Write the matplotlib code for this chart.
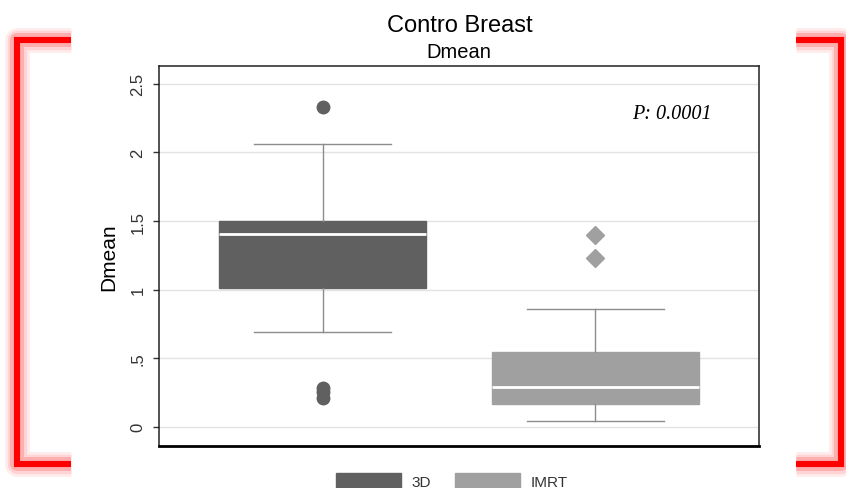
import matplotlib
matplotlib.use("Agg")
import matplotlib.pyplot as plt
from matplotlib.lines import Line2D
from matplotlib.patches import Patch

# summary values
groups = ["3D", "IMRT"]
q1 = [1.015, 0.163]
med = [1.405, 0.289]
q3 = [1.50, 0.547]
whis_lo = [0.69, 0.04]
whis_hi = [2.058, 0.86]
fliers_3d = [2.33, 0.28, 0.25, 0.21]
fliers_imrt = [1.40, 1.23]
p_text = "P: 0.0001"

yticks = [0, 0.5, 1, 1.5, 2, 2.5]
ytick_labels = ["0", ".5", "1", "1.5", "2", "2.5"]

colors = ["#606060", "#a0a0a0"]

W, H = 846, 489
fig = plt.figure(figsize=(W / 100, H / 100), dpi=100)
ax = fig.add_axes([159 / W, 1 - 447 / H, 600 / W, 380 / H])

stats = []
for i, g in enumerate(groups):
    stats.append(
        dict(
            label=g,
            q1=q1[i],
            med=med[i],
            q3=q3[i],
            whislo=whis_lo[i],
            whishi=whis_hi[i],
            fliers=[],
        )
    )

positions = [1, 2]
bp = ax.bxp(
    stats,
    positions=positions,
    widths=0.757,
    capwidths=0.5,
    patch_artist=True,
    showfliers=False,
    whiskerprops=dict(color="#8c8c8c", linewidth=1),
    capprops=dict(color="#8c8c8c", linewidth=1),
    medianprops=dict(color="white", linewidth=2),
    zorder=3,
)
for box, c in zip(bp["boxes"], colors):
    box.set_facecolor(c)
    box.set_edgecolor(c)

# outliers
ax.plot([positions[0]] * len(fliers_3d), fliers_3d, "o", color=colors[0], markersize=9, zorder=4)
ax.plot([positions[1]] * len(fliers_imrt), fliers_imrt, "D", color=colors[1], markersize=9, zorder=4)

ax.text(2.135, 2.25, p_text, fontsize=14.5, family="Liberation Serif", style="italic", ha="left", va="baseline")

ax.set_xlim(0.4, 2.6)
ax.set_ylim(-0.14, 2.63)
ax.set_yticks(yticks)
ax.set_yticklabels(ytick_labels)
ax.set_xticks([])
ax.grid(axis="y", color="#e2e2e2", linewidth=1, zorder=0)
ax.set_axisbelow(True)
ax.tick_params(axis="y", labelrotation=90, length=4.3, width=1, color="#333333", labelcolor="#333333", labelsize=12, pad=5.5)
for lab in ax.get_yticklabels():
    lab.set_family("Liberation Sans")
    lab.set_va("center")

for side in ["top", "right", "left"]:
    ax.spines[side].set_linewidth(1.1)
    ax.spines[side].set_color("#222222")
ax.spines["bottom"].set_linewidth(2)
ax.spines["bottom"].set_color("black")

ax.set_ylabel("Dmean", fontsize=15, family="Liberation Sans", labelpad=9)

fig.text(460 / W, 1 - 31.7 / H, "Contro Breast", fontsize=17, family="Liberation Sans", ha="center", va="baseline")
fig.text(459 / W, 1 - 58 / H, "Dmean", fontsize=14.5, family="Liberation Sans", ha="center", va="baseline")

handles = [Patch(facecolor=c, edgecolor=c) for c in colors]
fig.legend(
    handles,
    groups,
    loc="center",
    bbox_to_anchor=(452 / W, 1 - 482 / H),
    ncol=2,
    frameon=False,
    handlelength=4.25,
    handleheight=1.3,
    handletextpad=0.7,
    columnspacing=1.6,
    labelcolor="#333333",
    prop=dict(family="Liberation Sans", size=11),
)


# red bracket decoration on both sides
def bracket(xs, ys):
    fx = [x / W for x in xs]
    fy = [1 - y / H for y in ys]
    for lw, a in [(18, 0.07), (14, 0.1), (10, 0.18)]:
        fig.add_artist(Line2D(fx, fy, color="red", alpha=a, linewidth=lw, solid_capstyle="butt", solid_joinstyle="round"))
    fig.add_artist(Line2D(fx, fy, color="#ff0000", linewidth=4.4, solid_capstyle="butt", solid_joinstyle="miter"))


bracket([71, 16.5, 16.5, 71], [41, 41, 465, 465])
bracket([796, 841, 841, 796], [41, 41, 465, 465])

fig.savefig("out.png", dpi=100)
